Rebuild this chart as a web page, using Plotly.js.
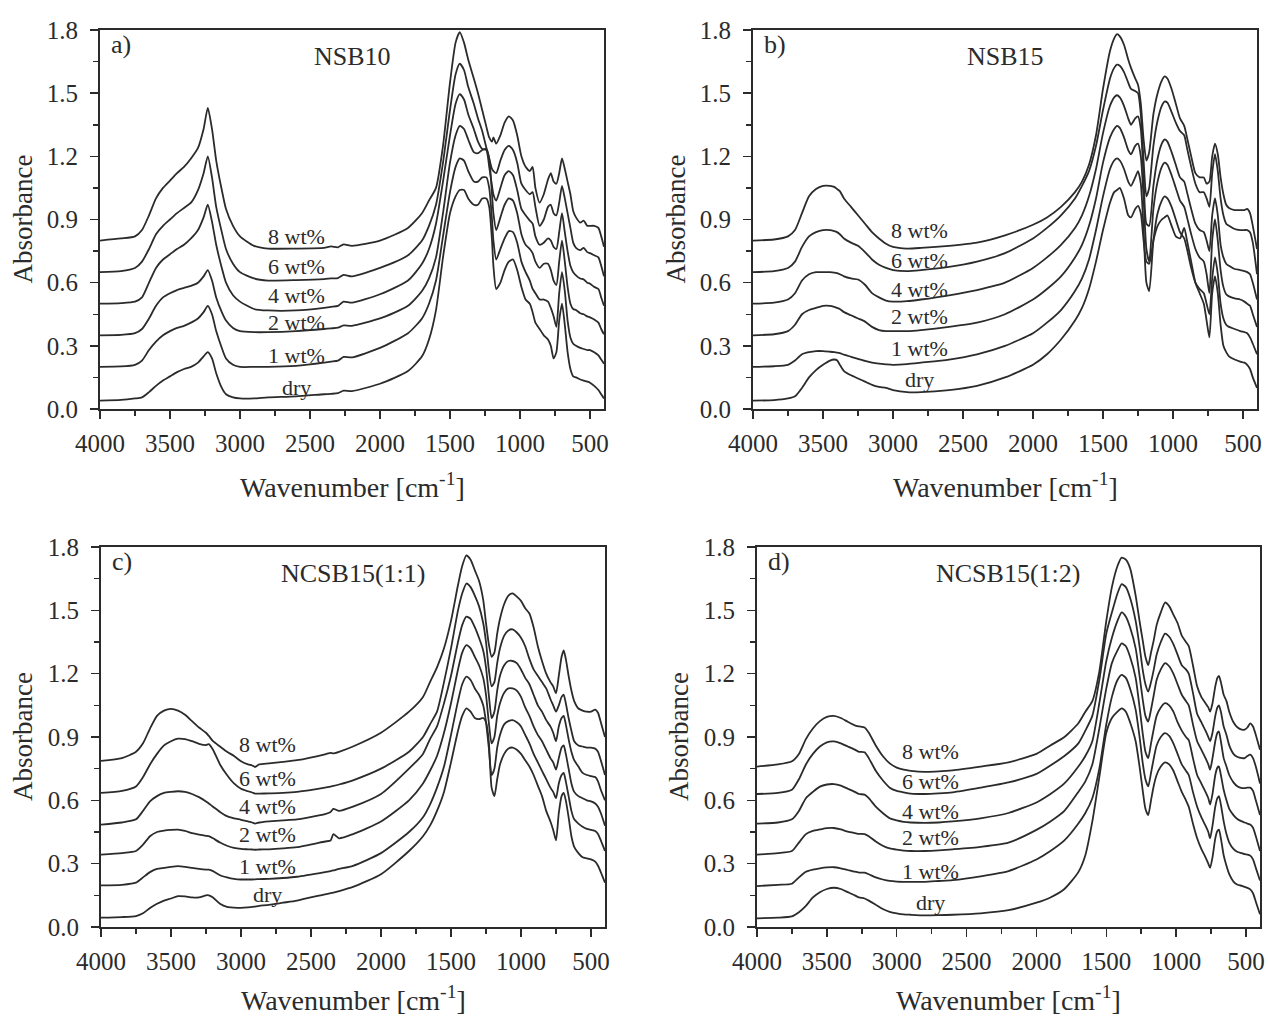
<!DOCTYPE html>
<html><head><meta charset="utf-8">
<script src="https://cdn.plot.ly/plotly-3.0.1.min.js"></script>
<style>html,body{margin:0;padding:0;background:#fff;} #chart{width:1268px;height:1017px;}</style>
</head><body><div id="chart"></div>
<script>
// ---------- Panel a: NSB10 ----------
const GA = [4000,3850,3750,3700,3650,3600,3550,3500,3450,3400,
 3350,3300,3260,3230,3200,3170,3130,3100,3050,3000,
 2900,2800,2600,2400,2350,2300,2260,2200,2000,1800,
 1700,1650,1600,1550,1500,1460,1430,1400,1370,1330,
 1300,1270,1240,1220,1200,1190,1170,1140,1110,1080,
 1050,1020,990,960,930,910,890,860,830,800,
 780,760,740,720,700,680,660,640,620,600,
 570,545,520,500,470,440,420,400];
const A8 = [0.80,0.81,0.82,0.85,0.92,1.00,1.05,1.085,1.12,1.15,
 1.19,1.24,1.33,1.43,1.33,1.18,1.04,0.95,0.87,0.82,
 0.775,0.762,0.762,0.765,0.772,0.768,0.782,0.775,0.80,0.86,
 0.93,0.99,1.05,1.25,1.55,1.74,1.79,1.74,1.66,1.57,
 1.50,1.42,1.34,1.29,1.27,1.29,1.26,1.30,1.36,1.39,
 1.37,1.30,1.20,1.15,1.13,1.15,1.05,0.98,1.02,1.09,
 1.12,1.08,1.07,1.12,1.19,1.14,1.08,1.02,0.94,0.91,
 0.885,0.895,0.87,0.87,0.87,0.86,0.82,0.77];
const A6 = [0.65,0.655,0.67,0.70,0.76,0.83,0.87,0.90,0.93,0.955,
 0.98,1.04,1.12,1.20,1.10,0.96,0.84,0.76,0.69,0.65,
 0.62,0.61,0.612,0.617,0.62,0.622,0.637,0.63,0.67,0.73,
 0.80,0.87,0.97,1.17,1.42,1.59,1.64,1.61,1.53,1.45,
 1.38,1.32,1.24,1.19,1.14,1.13,1.12,1.18,1.23,1.25,
 1.23,1.17,1.07,1.04,1.02,1.03,0.96,0.87,0.90,0.96,
 0.97,0.93,0.92,0.98,1.06,1.00,0.93,0.86,0.79,0.765,
 0.755,0.765,0.745,0.74,0.73,0.72,0.68,0.63];
const A4 = [0.50,0.503,0.51,0.53,0.60,0.67,0.71,0.735,0.76,0.78,
 0.81,0.85,0.91,0.97,0.89,0.78,0.67,0.60,0.54,0.51,
 0.475,0.468,0.468,0.48,0.485,0.49,0.51,0.505,0.545,0.61,
 0.69,0.76,0.88,1.08,1.30,1.45,1.495,1.47,1.40,1.33,
 1.27,1.235,1.23,1.15,1.06,1.02,0.99,1.05,1.11,1.13,
 1.11,1.04,0.95,0.92,0.895,0.88,0.82,0.78,0.79,0.81,
 0.80,0.77,0.76,0.84,0.93,0.84,0.75,0.68,0.65,0.635,
 0.62,0.615,0.60,0.595,0.58,0.57,0.53,0.49];
const A2 = [0.35,0.352,0.36,0.38,0.43,0.49,0.53,0.55,0.565,0.575,
 0.585,0.60,0.63,0.66,0.61,0.53,0.46,0.42,0.385,0.37,
 0.365,0.365,0.37,0.38,0.383,0.386,0.397,0.395,0.43,0.49,
 0.56,0.62,0.72,0.93,1.17,1.30,1.345,1.33,1.28,1.22,
 1.215,1.23,1.235,1.19,1.02,0.93,0.85,0.91,0.97,1.00,
 0.99,0.93,0.83,0.78,0.76,0.74,0.70,0.67,0.69,0.69,
 0.66,0.61,0.59,0.70,0.80,0.70,0.58,0.50,0.475,0.47,
 0.455,0.45,0.44,0.435,0.425,0.41,0.38,0.355];
const A1 = [0.20,0.202,0.21,0.23,0.28,0.32,0.35,0.37,0.385,0.395,
 0.41,0.43,0.46,0.49,0.45,0.37,0.29,0.24,0.21,0.20,
 0.20,0.20,0.205,0.22,0.225,0.23,0.247,0.245,0.29,0.36,
 0.43,0.50,0.61,0.82,1.03,1.15,1.19,1.18,1.13,1.08,
 1.08,1.10,1.10,1.05,0.90,0.80,0.71,0.76,0.81,0.845,
 0.84,0.79,0.70,0.65,0.61,0.57,0.55,0.52,0.52,0.51,
 0.48,0.44,0.39,0.55,0.65,0.56,0.42,0.34,0.31,0.30,
 0.29,0.285,0.28,0.28,0.27,0.255,0.235,0.215];
const Adry = [0.04,0.043,0.05,0.055,0.08,0.11,0.135,0.155,0.175,0.19,
 0.20,0.22,0.25,0.27,0.24,0.17,0.10,0.07,0.055,0.05,
 0.05,0.055,0.06,0.07,0.072,0.075,0.087,0.085,0.12,0.18,
 0.25,0.33,0.47,0.72,0.93,1.01,1.04,1.04,1.00,0.97,
 0.97,1.00,1.00,0.96,0.80,0.68,0.57,0.60,0.66,0.70,
 0.71,0.66,0.58,0.52,0.50,0.46,0.41,0.38,0.35,0.33,
 0.30,0.24,0.27,0.42,0.50,0.40,0.27,0.19,0.155,0.15,
 0.14,0.135,0.13,0.125,0.11,0.09,0.07,0.05];

// ---------- Panel b: NSB15 ----------
const GB = [4000,3850,3750,3700,3650,3600,3550,3500,3450,3420,
 3400,3380,3350,3300,3250,3200,3150,3100,3050,3000,
 2900,2800,2600,2400,2200,2000,1900,1800,1700,1650,
 1600,1550,1500,1450,1420,1400,1380,1350,1320,1300,
 1270,1250,1230,1210,1190,1170,1140,1110,1080,1060,
 1040,1010,980,950,920,900,870,840,810,780,
 760,740,720,700,680,660,640,620,600,560,
 520,490,470,450,430,400];
const B8 = [0.80,0.805,0.82,0.85,0.93,1.01,1.045,1.06,1.06,1.055,
 1.045,1.035,1.00,0.96,0.92,0.88,0.84,0.81,0.785,0.77,
 0.762,0.765,0.775,0.79,0.825,0.875,0.91,0.96,1.03,1.08,
 1.16,1.30,1.52,1.70,1.76,1.78,1.77,1.73,1.66,1.62,
 1.57,1.54,1.45,1.28,1.18,1.22,1.40,1.50,1.56,1.58,
 1.57,1.52,1.45,1.38,1.345,1.29,1.20,1.12,1.10,1.10,
 1.07,1.08,1.20,1.26,1.21,1.10,1.02,0.97,0.955,0.945,
 0.945,0.945,0.95,0.93,0.87,0.76];
const B6 = [0.65,0.655,0.67,0.70,0.77,0.82,0.84,0.85,0.85,0.845,
 0.84,0.83,0.81,0.79,0.775,0.745,0.71,0.685,0.67,0.66,
 0.655,0.66,0.675,0.70,0.74,0.81,0.86,0.92,1.00,1.06,
 1.13,1.25,1.42,1.57,1.62,1.635,1.63,1.60,1.55,1.52,
 1.51,1.50,1.40,1.18,1.01,1.05,1.25,1.37,1.44,1.46,
 1.455,1.41,1.36,1.32,1.30,1.24,1.15,1.07,1.03,1.03,
 1.00,0.96,1.12,1.21,1.13,1.00,0.92,0.88,0.87,0.855,
 0.85,0.85,0.85,0.84,0.79,0.64];
const B4 = [0.50,0.505,0.52,0.55,0.61,0.64,0.65,0.65,0.65,0.648,
 0.645,0.64,0.63,0.62,0.615,0.59,0.55,0.53,0.515,0.51,
 0.512,0.52,0.54,0.565,0.60,0.67,0.72,0.78,0.86,0.92,
 1.01,1.14,1.31,1.44,1.48,1.49,1.48,1.44,1.38,1.35,
 1.38,1.39,1.33,1.10,0.88,0.87,1.06,1.19,1.26,1.28,
 1.27,1.22,1.16,1.10,1.08,1.03,0.95,0.88,0.85,0.84,
 0.80,0.75,0.92,1.00,0.92,0.78,0.72,0.69,0.68,0.665,
 0.66,0.655,0.65,0.64,0.60,0.52];
const B2 = [0.35,0.355,0.37,0.40,0.45,0.47,0.48,0.49,0.49,0.485,
 0.48,0.475,0.46,0.445,0.43,0.415,0.39,0.375,0.37,0.37,
 0.37,0.375,0.39,0.41,0.45,0.52,0.57,0.63,0.72,0.78,
 0.87,1.00,1.17,1.29,1.33,1.345,1.335,1.29,1.23,1.21,
 1.25,1.26,1.20,1.00,0.76,0.70,0.95,1.08,1.15,1.17,
 1.16,1.11,1.05,0.99,0.96,0.91,0.83,0.76,0.72,0.70,
 0.64,0.55,0.80,0.90,0.80,0.66,0.58,0.545,0.535,0.525,
 0.52,0.51,0.50,0.49,0.45,0.39];
const B1 = [0.20,0.203,0.21,0.23,0.26,0.27,0.275,0.275,0.272,0.27,
 0.268,0.265,0.258,0.248,0.238,0.228,0.22,0.215,0.212,0.21,
 0.213,0.22,0.235,0.26,0.30,0.36,0.41,0.47,0.56,0.62,
 0.71,0.85,1.01,1.14,1.18,1.19,1.18,1.14,1.08,1.06,
 1.10,1.13,1.07,0.85,0.60,0.56,0.80,0.93,0.99,1.01,
 1.00,0.96,0.90,0.84,0.81,0.76,0.67,0.60,0.57,0.55,
 0.50,0.45,0.62,0.72,0.64,0.50,0.43,0.40,0.39,0.38,
 0.37,0.365,0.36,0.34,0.31,0.26];
const Bdry = [0.04,0.042,0.05,0.06,0.10,0.15,0.185,0.21,0.23,0.235,
 0.232,0.21,0.18,0.16,0.145,0.13,0.115,0.105,0.10,0.09,
 0.08,0.08,0.09,0.11,0.15,0.21,0.26,0.33,0.42,0.48,
 0.57,0.70,0.85,0.98,1.03,1.04,1.05,1.00,0.92,0.91,
 0.95,0.965,0.93,0.80,0.70,0.69,0.80,0.87,0.90,0.91,
 0.92,0.87,0.82,0.81,0.86,0.80,0.70,0.60,0.55,0.50,
 0.42,0.34,0.55,0.63,0.55,0.40,0.30,0.27,0.25,0.235,
 0.225,0.22,0.21,0.19,0.15,0.10];

// ---------- Panel c: NCSB15(1:1) ----------
const GC = [4000,3850,3750,3700,3650,3600,3550,3500,3450,3400,
 3350,3300,3250,3230,3200,3150,3100,3050,3000,2950,
 2920,2900,2870,2800,2700,2600,2400,2360,2340,2300,
 2200,2000,1800,1700,1650,1600,1550,1500,1450,1420,
 1390,1360,1330,1300,1270,1250,1230,1210,1190,1170,
 1150,1120,1090,1060,1030,1000,970,940,910,880,
 850,820,790,770,750,730,710,695,680,660,
 640,620,590,560,530,500,470,450,430,400];
const C8 = [0.787,0.80,0.83,0.87,0.94,1.00,1.025,1.033,1.025,1.005,
 0.975,0.945,0.92,0.905,0.88,0.855,0.83,0.81,0.785,0.77,
 0.765,0.758,0.77,0.775,0.782,0.79,0.818,0.825,0.822,0.83,
 0.855,0.92,1.02,1.09,1.16,1.23,1.32,1.45,1.62,1.71,
 1.76,1.74,1.69,1.64,1.55,1.44,1.34,1.28,1.30,1.39,
 1.46,1.53,1.57,1.58,1.565,1.545,1.51,1.485,1.42,1.33,
 1.26,1.20,1.16,1.14,1.107,1.19,1.28,1.31,1.27,1.19,
 1.12,1.07,1.035,1.025,1.02,1.02,1.03,1.015,0.97,0.90];
const C6 = [0.635,0.645,0.666,0.71,0.77,0.82,0.86,0.88,0.892,0.89,
 0.88,0.868,0.862,0.866,0.84,0.77,0.72,0.68,0.655,0.643,
 0.637,0.632,0.632,0.633,0.635,0.64,0.66,0.665,0.668,0.675,
 0.695,0.75,0.83,0.90,0.96,1.02,1.16,1.32,1.50,1.58,
 1.627,1.61,1.57,1.52,1.44,1.35,1.22,1.14,1.16,1.25,
 1.32,1.38,1.405,1.41,1.395,1.37,1.33,1.27,1.22,1.19,
 1.16,1.13,1.08,1.05,1.02,1.05,1.09,1.10,1.06,0.99,
 0.93,0.88,0.86,0.855,0.85,0.85,0.845,0.83,0.79,0.72];
const C4 = [0.485,0.495,0.51,0.55,0.595,0.62,0.635,0.64,0.643,0.64,
 0.63,0.615,0.595,0.585,0.57,0.545,0.525,0.515,0.508,0.50,
 0.495,0.49,0.495,0.50,0.505,0.51,0.535,0.545,0.56,0.55,
 0.57,0.63,0.75,0.82,0.89,0.95,1.06,1.19,1.35,1.43,
 1.47,1.46,1.42,1.37,1.31,1.23,1.10,0.99,1.02,1.12,
 1.19,1.24,1.26,1.26,1.25,1.22,1.18,1.15,1.10,1.05,
 1.02,0.98,0.95,0.92,0.88,0.95,0.99,1.00,0.96,0.89,
 0.83,0.79,0.76,0.73,0.72,0.715,0.71,0.69,0.65,0.60];
const C2 = [0.343,0.35,0.36,0.39,0.43,0.45,0.457,0.46,0.461,0.455,
 0.445,0.438,0.432,0.43,0.42,0.40,0.385,0.375,0.37,0.368,
 0.367,0.366,0.367,0.368,0.372,0.378,0.405,0.41,0.44,0.42,
 0.44,0.50,0.60,0.68,0.74,0.81,0.92,1.06,1.22,1.30,
 1.335,1.32,1.28,1.24,1.18,1.10,0.97,0.87,0.90,1.00,
 1.06,1.11,1.13,1.13,1.12,1.09,1.04,1.00,0.95,0.91,
 0.88,0.84,0.80,0.78,0.745,0.80,0.85,0.86,0.82,0.75,
 0.68,0.64,0.62,0.61,0.60,0.595,0.585,0.57,0.54,0.48];
const C1 = [0.197,0.20,0.21,0.235,0.26,0.275,0.28,0.285,0.288,0.285,
 0.28,0.275,0.272,0.272,0.265,0.245,0.235,0.228,0.225,0.225,
 0.225,0.226,0.227,0.228,0.232,0.238,0.26,0.265,0.268,0.275,
 0.29,0.35,0.45,0.52,0.58,0.66,0.76,0.91,1.07,1.15,
 1.186,1.17,1.13,1.10,1.05,0.97,0.85,0.72,0.75,0.85,
 0.91,0.96,0.975,0.98,0.97,0.95,0.91,0.87,0.82,0.78,
 0.74,0.70,0.66,0.64,0.61,0.68,0.72,0.73,0.69,0.62,
 0.55,0.51,0.49,0.475,0.465,0.46,0.455,0.44,0.41,0.36];
const Cdry = [0.044,0.047,0.052,0.065,0.09,0.11,0.125,0.135,0.146,0.145,
 0.14,0.14,0.15,0.15,0.14,0.11,0.095,0.092,0.091,0.093,
 0.095,0.097,0.10,0.105,0.115,0.125,0.155,0.16,0.163,0.17,
 0.19,0.25,0.36,0.43,0.48,0.55,0.64,0.78,0.93,1.00,
 1.036,1.02,0.99,0.985,0.99,0.97,0.88,0.66,0.62,0.70,
 0.77,0.82,0.845,0.85,0.84,0.82,0.79,0.76,0.72,0.67,
 0.62,0.55,0.50,0.46,0.41,0.54,0.62,0.635,0.60,0.52,
 0.43,0.38,0.35,0.33,0.325,0.32,0.31,0.29,0.26,0.21];

// ---------- Panel d: NCSB15(1:2) ----------
const GD = [4000,3850,3750,3700,3650,3600,3550,3500,3450,3400,
 3350,3300,3270,3230,3200,3150,3100,3050,3000,2950,
 2900,2800,2700,2600,2400,2200,2000,1900,1800,1700,
 1650,1600,1550,1500,1460,1420,1390,1360,1330,1290,
 1260,1240,1220,1200,1180,1160,1140,1110,1080,1050,
 1020,990,960,930,910,880,850,820,790,770,
 757,740,720,705,694,680,660,640,620,590,
 560,530,510,490,470,450,430,400];
const D8 = [0.76,0.77,0.785,0.82,0.89,0.94,0.975,0.995,1.00,0.99,
 0.972,0.955,0.95,0.945,0.92,0.86,0.81,0.775,0.755,0.745,
 0.74,0.735,0.737,0.742,0.76,0.78,0.82,0.86,0.90,0.965,
 1.02,1.07,1.21,1.45,1.61,1.71,1.75,1.74,1.70,1.57,
 1.44,1.36,1.28,1.24,1.30,1.36,1.43,1.49,1.537,1.52,
 1.48,1.44,1.38,1.35,1.33,1.24,1.14,1.09,1.06,1.04,
 1.02,1.06,1.14,1.18,1.19,1.16,1.10,1.07,1.02,0.97,
 0.945,0.935,0.935,0.945,0.965,0.95,0.91,0.84];
const D6 = [0.63,0.635,0.65,0.70,0.77,0.82,0.855,0.875,0.879,0.87,
 0.855,0.84,0.83,0.828,0.80,0.74,0.695,0.66,0.645,0.638,
 0.632,0.63,0.633,0.638,0.66,0.685,0.725,0.765,0.81,0.87,
 0.93,1.00,1.17,1.39,1.49,1.58,1.624,1.61,1.56,1.45,
 1.32,1.22,1.15,1.115,1.16,1.22,1.29,1.35,1.39,1.375,
 1.34,1.29,1.24,1.22,1.20,1.11,1.01,0.97,0.93,0.90,
 0.88,0.92,1.00,1.04,1.05,1.02,0.95,0.91,0.86,0.82,
 0.805,0.80,0.80,0.81,0.816,0.80,0.76,0.68];
const D4 = [0.49,0.495,0.51,0.55,0.61,0.64,0.665,0.675,0.677,0.67,
 0.655,0.64,0.63,0.627,0.61,0.57,0.54,0.515,0.505,0.498,
 0.495,0.493,0.495,0.50,0.515,0.54,0.59,0.63,0.68,0.76,
 0.81,0.88,1.06,1.26,1.37,1.45,1.49,1.47,1.42,1.32,
 1.18,1.08,1.00,0.973,1.03,1.10,1.17,1.22,1.25,1.235,
 1.20,1.15,1.10,1.07,1.05,0.96,0.88,0.84,0.80,0.77,
 0.745,0.80,0.88,0.92,0.926,0.88,0.80,0.76,0.72,0.685,
 0.665,0.658,0.658,0.66,0.66,0.645,0.60,0.53];
const D2 = [0.343,0.35,0.36,0.40,0.44,0.455,0.462,0.468,0.469,0.462,
 0.452,0.445,0.441,0.44,0.43,0.405,0.385,0.372,0.366,0.362,
 0.36,0.36,0.363,0.368,0.38,0.40,0.46,0.50,0.55,0.64,
 0.69,0.77,0.94,1.13,1.25,1.31,1.343,1.33,1.28,1.18,
 1.03,0.92,0.83,0.80,0.87,0.94,1.00,1.04,1.06,1.05,
 1.02,0.97,0.93,0.90,0.885,0.80,0.72,0.68,0.64,0.61,
 0.58,0.63,0.72,0.755,0.76,0.72,0.65,0.60,0.56,0.53,
 0.51,0.50,0.495,0.49,0.485,0.47,0.43,0.36];
const D1 = [0.194,0.20,0.205,0.235,0.262,0.272,0.278,0.282,0.283,0.278,
 0.27,0.262,0.258,0.257,0.25,0.235,0.225,0.218,0.215,0.214,
 0.214,0.214,0.218,0.222,0.24,0.265,0.32,0.36,0.41,0.49,
 0.54,0.61,0.75,0.96,1.09,1.17,1.194,1.18,1.13,1.03,
 0.89,0.78,0.70,0.666,0.73,0.80,0.86,0.90,0.918,0.905,
 0.87,0.82,0.77,0.74,0.72,0.64,0.57,0.52,0.48,0.45,
 0.42,0.48,0.57,0.61,0.62,0.58,0.50,0.44,0.40,0.37,
 0.355,0.35,0.345,0.343,0.338,0.32,0.28,0.22];
const Ddry = [0.041,0.044,0.05,0.07,0.10,0.14,0.165,0.18,0.186,0.18,
 0.165,0.15,0.14,0.135,0.125,0.105,0.085,0.072,0.065,0.06,
 0.058,0.055,0.056,0.058,0.065,0.08,0.115,0.14,0.18,0.26,
 0.34,0.50,0.71,0.92,0.99,1.02,1.036,1.02,0.97,0.88,
 0.75,0.65,0.56,0.53,0.60,0.67,0.72,0.76,0.78,0.77,
 0.74,0.69,0.64,0.60,0.57,0.49,0.42,0.37,0.33,0.30,
 0.28,0.33,0.42,0.455,0.461,0.42,0.34,0.29,0.25,0.215,
 0.20,0.195,0.19,0.185,0.178,0.16,0.12,0.06];

// ---------- Text ----------
const seriesLabels = ['8 wt%','6 wt%','4 wt%','2 wt%','1 wt%','dry'];
const panelTitles = ['NSB10','NSB15','NCSB15(1:1)','NCSB15(1:2)'];
const panelLetters = ['a)','b)','c)','d)'];
const labelX = [2596, 2810, 2810, 2760];
const labelYA = [0.82,0.675,0.54,0.41,0.256,0.10];
const labelYB = [0.85,0.707,0.568,0.44,0.289,0.142];
const labelYC = [0.863,0.705,0.572,0.44,0.285,0.155];
const labelYD = [0.83,0.69,0.548,0.422,0.265,0.115];
const xTickVals = [4000,3500,3000,2500,2000,1500,1000,500];
const xMinorVals = [3750,3250,2750,2250,1750,1250,750];
const yTickVals = [0,0.3,0.6,0.9,1.2,1.5,1.8];
const yTickText = ['0.0','0.3','0.6','0.9','1.2','1.5','1.8'];
const yMinorVals = [0.15,0.45,0.75,1.05,1.35,1.65];

// ---------- Build ----------
const W = 1268, H = 1017;
const FONT = 'Liberation Serif, Times New Roman, serif';
const INK = '#2b2b2b';
const panels = [
  {g:GA, c:[A8,A6,A4,A2,A1,Adry], ly:labelYA, box:[100,604,30,409]},
  {g:GB, c:[B8,B6,B4,B2,B1,Bdry], ly:labelYB, box:[753,1257,30,409]},
  {g:GC, c:[C8,C6,C4,C2,C1,Cdry], ly:labelYC, box:[101,605,547,927]},
  {g:GD, c:[D8,D6,D4,D2,D1,Ddry], ly:labelYD, box:[757,1260,547,927]}
];
const traces = [];
const layout = {
  width: W, height: H, margin:{l:0,r:0,t:0,b:0},
  paper_bgcolor:'#fff', plot_bgcolor:'#fff', showlegend:false,
  font:{family:FONT, color:INK}, annotations:[]
};
panels.forEach((p, i) => {
  const n = i === 0 ? '' : String(i+1);
  p.c.forEach((arr, k) => {
    if (arr.length !== p.g.length) throw new Error('Length mismatch panel '+i+' curve '+k+': '+arr.length+' vs '+p.g.length);
    traces.push({x:p.g, y:arr, type:'scatter', mode:'lines', xaxis:'x'+n, yaxis:'y'+n,
      line:{color:INK, width:1.8, shape:'spline', smoothing:0.6}, hoverinfo:'skip'});
  });
  const [x0,x1,y0,y1] = p.box;
  layout['xaxis'+n] = {
    domain:[x0/W, x1/W], anchor:'y'+n, range:[4000,400],
    tickmode:'array', tickvals:xTickVals, ticktext:xTickVals.map(String),
    ticks:'outside', ticklen:8, tickwidth:1.5, tickcolor:INK,
    minor:{tickmode:'array', tickvals:xMinorVals, ticks:'outside', ticklen:5, tickwidth:1.5, tickcolor:INK},
    showline:true, linewidth:2, linecolor:INK, mirror:true, showgrid:false, zeroline:false,
    tickfont:{family:FONT, size:25, color:INK}, ticklabelstandoff:3
  };
  layout['yaxis'+n] = {
    domain:[1-y1/H, 1-y0/H], anchor:'x'+n, range:[0,1.8],
    tickmode:'array', tickvals:yTickVals, ticktext:yTickText,
    ticks:'outside', ticklen:8, tickwidth:1.5, tickcolor:INK,
    minor:{tickmode:'array', tickvals:yMinorVals, ticks:'outside', ticklen:5, tickwidth:1.5, tickcolor:INK},
    showline:true, linewidth:2, linecolor:INK, mirror:true, showgrid:false, zeroline:false,
    tickfont:{family:FONT, size:25, color:INK}, ticklabelstandoff:7
  };
  seriesLabels.forEach((t, k) => {
    layout.annotations.push({text:t, x:labelX[i], y:p.ly[k], xref:'x'+n, yref:'y'+n,
      showarrow:false, font:{family:FONT, size:22, color:INK}, xanchor:'center', yanchor:'middle'});
  });
  layout.annotations.push({text:panelTitles[i], x:2200, y:1.675, xref:'x'+n, yref:'y'+n,
    showarrow:false, font:{family:FONT, size:26, color:INK}, xanchor:'center', yanchor:'middle'});
  layout.annotations.push({text:panelLetters[i], x:3935, y:1.73, xref:'x'+n, yref:'y'+n,
    showarrow:false, font:{family:FONT, size:26, color:INK}, xanchor:'left', yanchor:'middle'});
  layout.annotations.push({text:'Absorbance', x:(x0-78)/W, y:1-((y0+y1)/2)/H, xref:'paper', yref:'paper',
    textangle:-90, showarrow:false, font:{family:FONT, size:27, color:INK}, xanchor:'center', yanchor:'middle'});
  const titleCenter = (y1 + 76);
  layout.annotations.push({text:'Wavenumber [cm<sup>-1</sup>]', x:((x0+x1)/2)/W,
    y: i < 2 ? 1-titleCenter/H : 0, xref:'paper', yref:'paper',
    showarrow:false, font:{family:FONT, size:28, color:INK}, xanchor:'center',
    yanchor: i < 2 ? 'middle' : 'bottom', borderpad:0});
});
Plotly.newPlot('chart', traces, layout, {displayModeBar:false, staticPlot:true});
</script>
</body></html>
